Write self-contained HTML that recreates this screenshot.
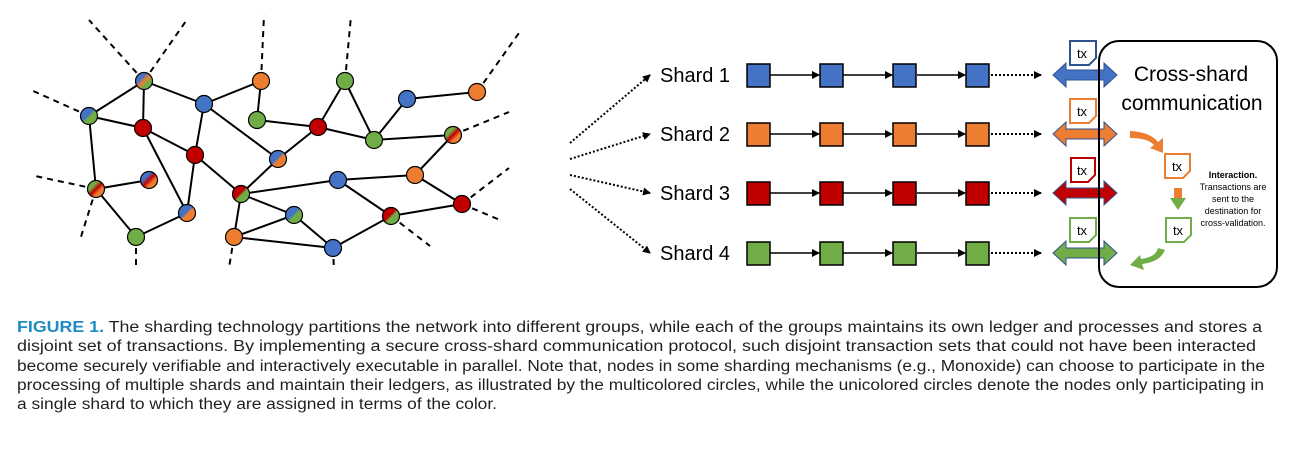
<!DOCTYPE html>
<html><head><meta charset="utf-8"><style>body{margin:0;background:#fff}svg{display:block}</style></head><body>
<svg width="1296" height="450" viewBox="0 0 1296 450" xmlns="http://www.w3.org/2000/svg" font-family="Liberation Sans, sans-serif">
<defs>
<linearGradient id="bog" x1="0" y1="0" x2="1" y2="1"><stop offset="0.33" stop-color="#4472C4"/><stop offset="0.5" stop-color="#ED7D31"/><stop offset="0.67" stop-color="#70AD47"/></linearGradient>
<linearGradient id="bg" x1="0" y1="0" x2="1" y2="1"><stop offset="0.45" stop-color="#4472C4"/><stop offset="0.55" stop-color="#70AD47"/></linearGradient>
<linearGradient id="bo" x1="0" y1="0" x2="1" y2="1"><stop offset="0.45" stop-color="#4472C4"/><stop offset="0.55" stop-color="#ED7D31"/></linearGradient>
<linearGradient id="gro" x1="0" y1="0" x2="1" y2="1"><stop offset="0.33" stop-color="#70AD47"/><stop offset="0.5" stop-color="#C00000"/><stop offset="0.67" stop-color="#ED7D31"/></linearGradient>
<linearGradient id="bro" x1="0" y1="0" x2="1" y2="1"><stop offset="0.33" stop-color="#4472C4"/><stop offset="0.5" stop-color="#C00000"/><stop offset="0.67" stop-color="#ED7D31"/></linearGradient>
<linearGradient id="rg" x1="0" y1="0" x2="1" y2="1"><stop offset="0.45" stop-color="#C00000"/><stop offset="0.55" stop-color="#70AD47"/></linearGradient>
<marker id="ah" markerWidth="8" markerHeight="8" refX="7" refY="4" orient="auto" markerUnits="userSpaceOnUse"><path d="M0,0 L8,4 L0,8 z" fill="#000"/></marker>
</defs>
<g stroke="#000" stroke-width="2" stroke-dasharray="6,5">
<path d="M144,81 L89,20 M144,81 L186,21 M89,116 L31,90 M261,81 L264,15 M345,81 L351,16 M477,92 L519,33 M453,135 L509,112 M96,189 L35,176 M96,189 L80,240 M136,237 L136,270 M234,237 L229,268 M333,248 L334,270 M391,216 L430,246 M462,204 L509,168 M462,204 L500,220"/>
</g>
<g stroke="#000" stroke-width="2">
<path d="M144,81L89,116M144,81L143,128M144,81L204,104M89,116L143,128M89,116L96,189M143,128L195,155M143,128L187,213M204,104L261,81M204,104L195,155M204,104L278,159M261,81L257,120M257,120L318,127M195,155L187,213M195,155L241,194M278,159L318,127M278,159L241,194M318,127L345,81M318,127L374,140M345,81L374,140M374,140L407,99M407,99L477,92M374,140L453,135M453,135L415,175M96,189L149,180M96,189L136,237M136,237L187,213M241,194L338,180M338,180L415,175M241,194L294,215M241,194L234,237M234,237L294,215M234,237L333,248M294,215L333,248M338,180L391,216M415,175L462,204M391,216L462,204M391,216L333,248"/>
</g>
<g stroke="#000" stroke-width="1.2">
<circle cx="144" cy="81" r="8.5" fill="url(#bog)"/><circle cx="89" cy="116" r="8.5" fill="url(#bg)"/>
<circle cx="143" cy="128" r="8.5" fill="#C00000"/><circle cx="204" cy="104" r="8.5" fill="#4472C4"/>
<circle cx="261" cy="81" r="8.5" fill="#ED7D31"/><circle cx="257" cy="120" r="8.5" fill="#70AD47"/>
<circle cx="195" cy="155" r="8.5" fill="#C00000"/><circle cx="278" cy="159" r="8.5" fill="url(#bo)"/>
<circle cx="318" cy="127" r="8.5" fill="#C00000"/><circle cx="345" cy="81" r="8.5" fill="#70AD47"/>
<circle cx="374" cy="140" r="8.5" fill="#70AD47"/><circle cx="407" cy="99" r="8.5" fill="#4472C4"/>
<circle cx="477" cy="92" r="8.5" fill="#ED7D31"/><circle cx="453" cy="135" r="8.5" fill="url(#gro)"/>
<circle cx="96" cy="189" r="8.5" fill="url(#gro)"/><circle cx="149" cy="180" r="8.5" fill="url(#bro)"/>
<circle cx="187" cy="213" r="8.5" fill="url(#bo)"/><circle cx="136" cy="237" r="8.5" fill="#70AD47"/>
<circle cx="241" cy="194" r="8.5" fill="url(#rg)"/><circle cx="338" cy="180" r="8.5" fill="#4472C4"/>
<circle cx="415" cy="175" r="8.5" fill="#ED7D31"/><circle cx="294" cy="215" r="8.5" fill="url(#bg)"/>
<circle cx="234" cy="237" r="8.5" fill="#ED7D31"/><circle cx="333" cy="248" r="8.5" fill="#4472C4"/>
<circle cx="391" cy="216" r="8.5" fill="url(#rg)"/><circle cx="462" cy="204" r="8.5" fill="#C00000"/>
</g>
<g stroke="#000" stroke-width="2" stroke-dasharray="2,2" fill="none" marker-end="url(#ah)">
<path d="M570,143 L650,75"/><path d="M570,159 L650,134"/><path d="M570,175 L650,193"/><path d="M570,189 L650,253"/>
<path d="M991,75 L1041,75"/><path d="M991,134 L1041,134"/><path d="M991,193 L1041,193"/><path d="M991,253 L1041,253"/>
</g>
<g font-size="20" fill="#000">
<text x="660" y="82">Shard 1</text><text x="660" y="141">Shard 2</text><text x="660" y="200">Shard 3</text><text x="660" y="260">Shard 4</text>
</g>
<g stroke="#000" stroke-width="1.5" marker-end="url(#ah)">
<path d="M770,75H819"/><path d="M843,75H892"/><path d="M917,75H965"/>
<path d="M770,134H819"/><path d="M843,134H892"/><path d="M917,134H965"/>
<path d="M770,193H819"/><path d="M843,193H892"/><path d="M917,193H965"/>
<path d="M770,253H819"/><path d="M843,253H892"/><path d="M917,253H965"/>
</g>
<g stroke="#000" stroke-width="1.5">
<g fill="#4472C4"><rect x="747" y="64" width="23" height="23"/><rect x="820" y="64" width="23" height="23"/><rect x="893" y="64" width="23" height="23"/><rect x="966" y="64" width="23" height="23"/></g>
<g fill="#ED7D31"><rect x="747" y="123" width="23" height="23"/><rect x="820" y="123" width="23" height="23"/><rect x="893" y="123" width="23" height="23"/><rect x="966" y="123" width="23" height="23"/></g>
<g fill="#C00000"><rect x="747" y="182" width="23" height="23"/><rect x="820" y="182" width="23" height="23"/><rect x="893" y="182" width="23" height="23"/><rect x="966" y="182" width="23" height="23"/></g>
<g fill="#70AD47"><rect x="747" y="242" width="23" height="23"/><rect x="820" y="242" width="23" height="23"/><rect x="893" y="242" width="23" height="23"/><rect x="966" y="242" width="23" height="23"/></g>
</g>
<g stroke="#2F528F" stroke-width="1">
<path fill="#4472C4" d="M1053,75 L1066,63 V70 H1104 V63 L1117,75 L1104,87 V80 H1066 V87 Z"/>
<path fill="#ED7D31" d="M1053,134 L1066,122 V129 H1104 V122 L1117,134 L1104,146 V139 H1066 V146 Z"/>
<path fill="#C00000" d="M1053,193 L1066,181 V188 H1104 V181 L1117,193 L1104,205 V198 H1066 V205 Z"/>
<path fill="#70AD47" d="M1053,253 L1066,241 V248 H1104 V241 L1117,253 L1104,265 V258 H1066 V265 Z"/>
</g>
<g fill="#fff" stroke-width="2">
<path stroke="#2F528F" d="M1070,41 H1096 V58 L1089,65 H1070 Z"/>
<path stroke="#ED7D31" d="M1070,99 H1096 V116 L1089,123 H1070 Z"/>
<path stroke="#C00000" d="M1071,158 H1095 V175 L1088,182 H1071 Z"/>
<path stroke="#70AD47" d="M1070,218 H1096 V235 L1089,242 H1070 Z"/>
<path stroke="#ED7D31" d="M1165,154 H1190 V171 L1183,178 H1165 Z"/>
<path stroke="#70AD47" d="M1166,218 H1191 V235 L1184,242 H1166 Z"/>
</g>
<rect x="1099" y="41" width="178" height="246" rx="20" fill="none" stroke="#000" stroke-width="2"/>
<g font-size="13" fill="#000" text-anchor="middle">
<text x="1082" y="58">tx</text><text x="1082" y="116">tx</text><text x="1082" y="175">tx</text><text x="1082" y="235">tx</text><text x="1177" y="171">tx</text><text x="1178" y="235">tx</text>
</g>
<g font-size="21" text-anchor="middle" fill="#000"><text x="1191" y="81">Cross-shard</text><text x="1192" y="110">communication</text></g>
<path d="M1130,131 Q1150,132 1158,142 L1163,138 L1163,153 L1150,148 L1154,145 Q1148,138 1130,138 Z" fill="#ED7D31"/>
<rect x="1174" y="188" width="8" height="10" fill="#ED7D31"/><path d="M1170,198 H1186 L1178,210 Z" fill="#70AD47"/>
<path d="M1165,250 Q1160,262 1142,264 L1144,270 L1130,265 L1140,255 L1141,259 Q1156,257 1158,248 Z" fill="#70AD47"/>
<g font-size="9" text-anchor="middle" fill="#000"><text x="1233" y="178" font-weight="bold">Interaction.</text><text x="1233" y="190">Transactions are</text><text x="1233" y="202">sent to the</text><text x="1233" y="214">destination for</text><text x="1233" y="226">cross-validation.</text></g>
<g font-size="15.5" fill="#231F20">
<text x="17" y="332" textLength="1245" lengthAdjust="spacingAndGlyphs"><tspan fill="#1E8BC3" font-weight="bold">FIGURE 1.</tspan>  The sharding technology partitions the network into different groups, while each of the groups maintains its own ledger and processes and stores a</text>
<text x="17" y="351" textLength="1239" lengthAdjust="spacingAndGlyphs">disjoint set of transactions. By implementing a secure cross-shard communication protocol, such disjoint transaction sets that could not have been interacted</text>
<text x="17" y="371" textLength="1248" lengthAdjust="spacingAndGlyphs">become securely verifiable and interactively executable in parallel. Note that, nodes in some sharding mechanisms (e.g., Monoxide) can choose to participate in the</text>
<text x="17" y="390" textLength="1247" lengthAdjust="spacingAndGlyphs">processing of multiple shards and maintain their ledgers, as illustrated by the multicolored circles, while the unicolored circles denote the nodes only participating in</text>
<text x="17" y="409" textLength="480" lengthAdjust="spacingAndGlyphs">a single shard to which they are assigned in terms of the color.</text>
</g>
</svg>
</body></html>
